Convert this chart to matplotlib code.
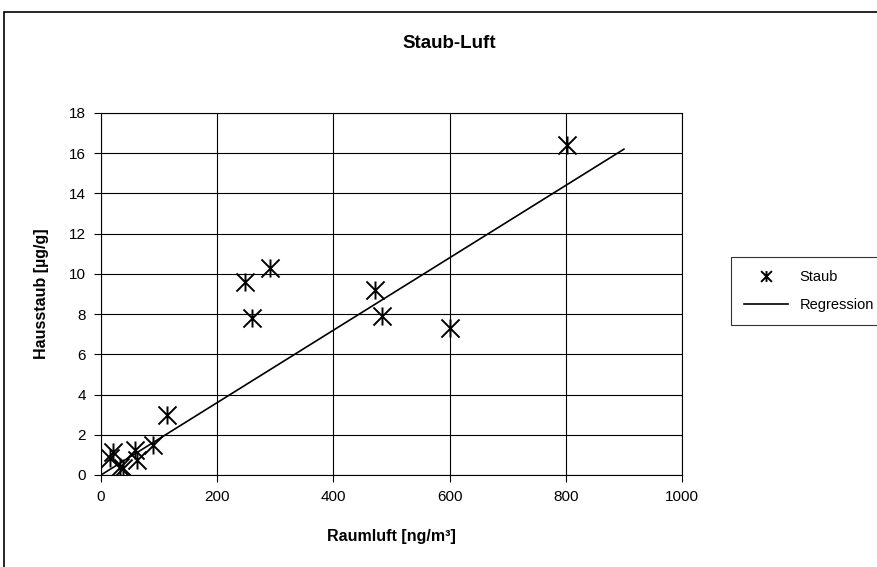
import matplotlib
matplotlib.use('Agg')
import matplotlib.pyplot as plt
from matplotlib.path import Path
from matplotlib.patches import Rectangle

plt.rcParams['font.family'] = ['Liberation Sans', 'DejaVu Sans']

# measured points
raumluft = [16, 21, 33, 38, 58, 62, 90, 114, 248, 260, 291, 472, 484, 600, 802]
hausstaub = [0.85, 1.15, 0.4, 0.35, 1.25, 0.75, 1.5, 3.0, 9.6, 7.8, 10.3, 9.2, 7.9, 7.3, 16.4]

# regression line end points
reg_x = [0, 900]
reg_y = [0.0, 16.2]

xticks = [0, 200, 400, 600, 800, 1000]
yticks = [0, 2, 4, 6, 8, 10, 12, 14, 16, 18]

# Excel-like star marker: X plus vertical stroke
star = Path([(-1, -1), (1, 1), (-1, 1), (1, -1), (0, -1), (0, 1)],
            [Path.MOVETO, Path.LINETO, Path.MOVETO, Path.LINETO, Path.MOVETO, Path.LINETO])

fig = plt.figure(figsize=(8.77, 5.67), dpi=100)
ax = fig.add_axes([101 / 877, 1 - 475 / 567, 581 / 877, 362 / 567])

ax.plot(raumluft, hausstaub, linestyle='none', marker=star, markersize=13,
        markeredgewidth=1.4, color='black', label='Staub')
ax.plot(reg_x, reg_y, color='black', linewidth=1.2, label='Regression')

ax.set_xlim(0, 1000)
ax.set_ylim(0, 18)
ax.set_xticks(xticks)
ax.set_yticks(yticks)
ax.grid(True, color='black', linewidth=0.8)
ax.set_axisbelow(True)
for s in ax.spines.values():
    s.set_color('black')
    s.set_linewidth(0.8)
ax.tick_params(direction='out', length=5, width=0.8, labelsize=11, pad=6)

fig.text(449 / 877, 1 - 44 / 567, 'Staub-Luft', fontsize=13.5, fontweight='bold',
         ha='center', va='center')
ax.set_xlabel('Raumluft [ng/m³]', fontsize=11.5, fontweight='bold', labelpad=18)
ax.set_ylabel('Hausstaub [µg/g]', fontsize=11.5, fontweight='bold', labelpad=14)

leg = ax.legend(loc='center left', bbox_to_anchor=(724 / 877, 1 - 291 / 567),
                bbox_transform=fig.transFigure, frameon=True, fancybox=False,
                edgecolor='black', fontsize=10.5, handlelength=3.0,
                borderpad=0.9, labelspacing=1.0, markerscale=0.6)
leg.get_frame().set_linewidth(0.8)

# outer chart frame (cut off on right and bottom)
fig.patches.append(Rectangle((4 / 877, -0.05), 1.1, 1 - 12 / 567 + 0.05,
                             transform=fig.transFigure, fill=False,
                             edgecolor='black', linewidth=1.2))

fig.savefig('out.png', dpi=100)
